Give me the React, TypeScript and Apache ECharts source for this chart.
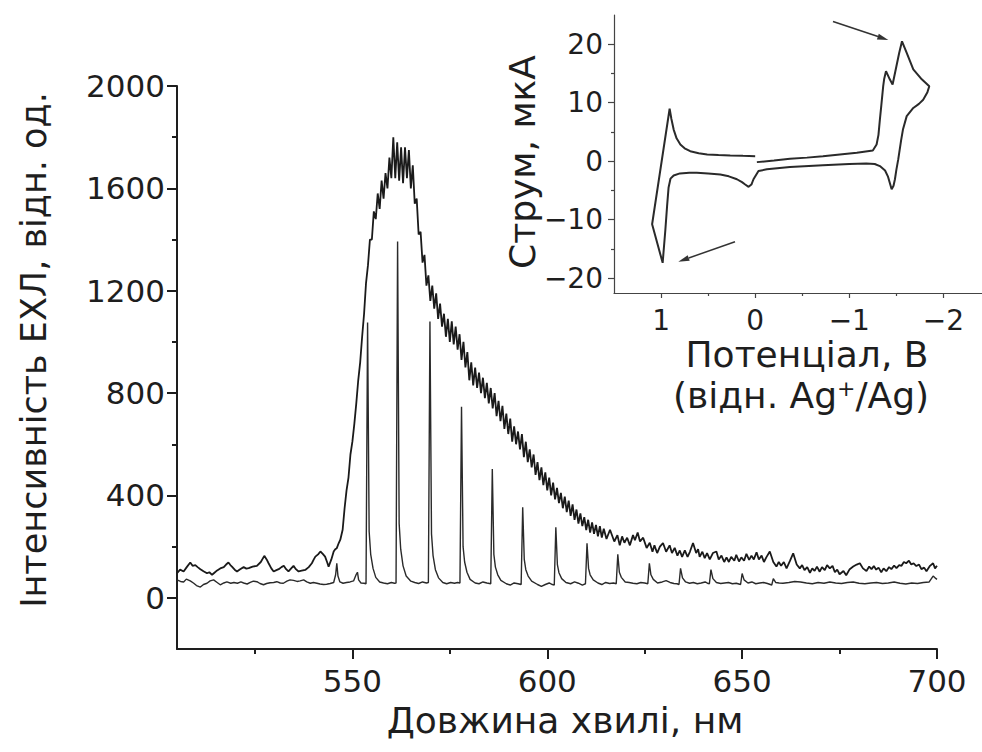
import React, { useEffect, useRef } from 'react';
import * as echarts from 'echarts';

const FONT = '"DejaVu Sans", "Liberation Sans", Arial, sans-serif';

// Main axis ticks
const wavelengthTicks = [550, 600, 650, 700];
const wavelengthMinorTicks = [525, 575, 625, 675];
const intensityTicks = [0, 400, 800, 1200, 1600, 2000];
const intensityMinorTicks = [200, 600, 1000, 1400, 1800];
// Inset axis ticks
const potentialTicks = [1, 0, -1, -2];
const potentialMinorTicks = [0.5, -0.5, -1.5];
const currentTicks = [-20, -10, 0, 10, 20];
const currentMinorTicks = [-15, -5, 5, 15];

const xTitle = 'Довжина хвилі, нм';
const yTitle = 'Інтенсивність ЕХЛ, відн. од.';
const insetYTitle = 'Струм, мкА';
const insetXTitle = 'Потенціал, В';

// Broad ECL spectrum (wavelength nm, intensity)
const elSpectrum: number[][] = [
  [505.0, 96], [505.8, 110], [506.7, 103], [507.5, 120], [508.4, 138], [509.0, 125], [509.7, 128], [510.3, 120],
  [511.0, 112], [511.8, 104], [512.7, 96], [513.3, 100], [514.0, 90], [514.6, 98], [515.3, 107], [516.1, 115],
  [517.0, 120], [517.6, 130], [518.2, 138], [518.7, 128], [519.1, 122], [519.8, 110], [520.4, 103], [521.2, 112],
  [522.1, 120], [522.8, 114], [523.4, 116], [524.4, 122], [525.5, 125], [526.5, 140], [527.4, 164], [528.0, 150],
  [528.5, 135], [529.2, 115], [529.8, 103], [530.5, 108], [531.1, 112], [531.8, 120], [532.4, 125], [533.0, 112],
  [533.6, 103], [534.3, 115], [534.9, 125], [535.5, 112], [536.2, 103], [537.0, 106], [537.9, 109], [538.8, 120],
  [539.6, 135], [540.1, 150], [540.5, 161], [541.2, 170], [541.8, 181], [542.4, 172], [543.0, 161], [543.5, 140],
  [543.9, 122], [544.6, 150], [545.2, 181], [545.6, 190], [546.0, 194], [546.5, 214], [546.9, 227], [547.5, 266],
  [548.0, 350], [548.5, 420], [549.0, 470], [549.5, 560], [550.0, 610], [550.5, 680], [551.0, 760], [551.5, 850],
  [552.0, 920], [552.5, 1020], [553.0, 1110], [553.5, 1230], [554.0, 1300], [554.5, 1400], [555.0, 1400], [555.5, 1510],
  [556.0, 1480], [556.5, 1580], [557.0, 1520], [557.5, 1630], [558.0, 1560], [558.5, 1660], [559.0, 1600], [559.5, 1720],
  [560.0, 1640], [560.5, 1800], [561.0, 1640], [561.5, 1780], [562.0, 1630], [562.5, 1760], [563.0, 1620], [563.5, 1760],
  [564.0, 1640], [564.5, 1750], [565.0, 1600], [565.5, 1690], [566.0, 1540], [566.5, 1560], [567.0, 1420], [567.5, 1430],
  [568.0, 1310], [568.5, 1340], [569.0, 1220], [569.5, 1260], [570.0, 1160], [570.5, 1220], [571.0, 1130], [571.5, 1190],
  [572.0, 1090], [572.5, 1150], [573.0, 1060], [573.5, 1110], [574.0, 1020], [574.5, 1090], [575.0, 1000], [575.5, 1080],
  [576.0, 990], [576.5, 1060], [577.0, 970], [577.5, 1030], [578.0, 930], [578.5, 1000], [579.0, 900], [579.5, 960],
  [580.0, 850], [580.5, 920], [581.0, 830], [581.5, 900], [582.0, 820], [582.5, 880], [583.0, 800], [583.5, 860],
  [584.0, 780], [584.5, 840], [585.0, 760], [585.5, 820], [586.0, 740], [586.5, 800], [587.0, 710], [587.5, 770],
  [588.0, 690], [588.5, 750], [589.0, 660], [589.5, 720], [590.0, 640], [590.5, 700], [591.0, 610], [591.5, 670],
  [592.0, 600], [592.5, 650], [593.0, 580], [593.5, 640], [594.0, 550], [594.5, 610], [595.0, 530], [595.5, 580],
  [596.0, 510], [596.5, 560], [597.0, 480], [597.5, 530], [598.0, 460], [598.5, 510], [599.0, 440], [599.5, 490],
  [600.0, 420], [600.5, 470], [601.0, 400], [601.5, 450], [602.0, 385], [602.5, 430], [603.0, 370], [603.5, 410],
  [604.0, 350], [604.5, 395], [605.0, 335], [605.5, 380], [606.0, 320], [606.5, 365], [607.0, 305], [607.5, 345],
  [608.0, 290], [608.5, 330], [609.0, 280], [609.5, 315], [610.0, 265], [610.5, 305], [611.0, 255], [611.5, 295],
  [612.0, 250], [612.5, 285], [613.0, 240], [613.5, 280], [614.0, 235], [614.5, 270], [615.2, 230], [616.1, 266],
  [617.2, 220], [618.0, 245], [618.6, 205], [619.2, 240], [619.8, 215], [620.5, 235], [621.2, 205], [622.0, 245],
  [622.5, 225], [623.2, 255], [623.8, 220], [624.6, 235], [625.5, 195], [626.3, 215], [627.0, 180], [627.5, 205],
  [628.2, 175], [628.9, 200], [629.7, 214], [630.5, 180], [631.4, 205], [632.0, 175], [632.7, 195], [633.4, 165],
  [634.0, 185], [634.6, 160], [635.3, 185], [636.0, 160], [636.6, 180], [637.4, 214], [638.2, 175], [638.7, 190],
  [639.1, 160], [639.8, 180], [640.4, 155], [641.0, 175], [641.7, 150], [642.5, 175], [643.4, 181], [644.0, 150],
  [644.7, 165], [645.4, 140], [646.0, 158], [646.6, 140], [647.2, 160], [648.0, 145], [648.5, 168], [649.2, 142],
  [649.8, 158], [650.5, 145], [651.1, 172], [651.8, 148], [652.4, 165], [653.0, 150], [653.7, 178], [654.3, 150],
  [655.0, 165], [655.6, 140], [656.2, 158], [657.1, 181], [658.0, 140], [658.8, 122], [659.4, 140], [660.0, 125],
  [660.7, 140], [661.4, 115], [662.3, 145], [663.1, 174], [664.0, 130], [664.8, 115], [665.4, 128], [666.0, 108],
  [666.7, 120], [667.4, 98], [668.0, 115], [668.6, 105], [669.2, 122], [669.9, 102], [670.5, 120], [671.2, 108],
  [671.8, 128], [672.5, 115], [673.2, 125], [673.8, 100], [674.4, 110], [675.0, 92], [676.0, 105], [676.7, 88],
  [677.6, 112], [678.5, 122], [679.4, 130], [680.2, 135], [681.0, 115], [681.9, 105], [682.6, 122], [683.2, 112],
  [683.8, 124], [684.4, 110], [685.0, 118], [685.7, 100], [686.3, 115], [687.0, 104], [687.7, 120], [688.3, 112],
  [689.0, 126], [689.6, 116], [690.3, 128], [690.9, 125], [691.5, 140], [692.1, 135], [692.8, 145], [693.4, 130],
  [694.0, 135], [694.7, 124], [695.4, 130], [696.0, 112], [696.7, 118], [697.3, 104], [698.2, 125], [699.0, 135],
  [699.5, 115], [700.0, 125],
];

// Line-like spectrum with sharp peaks (wavelength nm, intensity)
const peakSpectrum: number[][] = [
  [505.0, 70], [505.9, 64], [506.7, 62], [507.4, 73], [508.4, 66], [509.3, 57], [510.0, 48], [511.0, 42],
  [511.8, 52], [512.7, 57], [513.5, 66], [514.4, 70], [515.3, 60], [516.1, 51], [517.0, 58], [517.8, 62],
  [518.8, 57], [519.6, 60], [520.5, 57], [521.4, 62], [522.1, 58], [523.0, 54], [523.8, 60], [524.6, 65],
  [525.5, 63], [526.3, 56], [527.2, 51], [528.0, 56], [528.9, 59], [529.8, 60], [530.6, 63], [531.5, 58],
  [532.3, 57], [533.2, 65], [534.0, 70], [534.9, 68], [535.8, 64], [536.6, 66], [537.5, 70], [538.3, 62],
  [539.2, 57], [540.0, 60], [540.9, 57], [541.7, 54], [542.6, 52], [543.4, 53], [544.3, 56], [545.2, 60],
  [545.7, 90], [546.0, 135], [546.3, 85], [546.8, 62], [547.6, 57], [548.5, 60], [549.4, 62], [550.3, 66],
  [551.0, 92], [551.3, 100], [551.6, 70], [552.2, 58], [553.0, 57], [553.5, 55], [553.9, 1076], [554.3, 260],
  [554.7, 170], [555.3, 115], [556.0, 80], [557.0, 62], [558.0, 58], [559.0, 55], [560.0, 60], [560.8, 57],
  [561.2, 58], [561.6, 1392], [562.0, 290], [562.4, 190], [563.0, 125], [563.8, 85], [565.0, 65], [566.0, 60],
  [567.0, 56], [568.0, 62], [569.0, 58], [569.5, 60], [569.9, 1080], [570.3, 250], [570.7, 165], [571.3, 110],
  [572.1, 78], [573.2, 60], [574.2, 55], [575.2, 60], [576.2, 57], [577.0, 60], [577.6, 58], [578.0, 747],
  [578.4, 200], [578.8, 140], [579.4, 100], [580.2, 72], [581.5, 58], [582.5, 55], [583.5, 62], [584.5, 58],
  [585.5, 55], [585.9, 503], [586.3, 170], [586.7, 120], [587.3, 90], [588.1, 68], [589.5, 55], [590.5, 50],
  [591.5, 58], [592.5, 55], [593.3, 52], [593.7, 354], [594.1, 150], [594.5, 110], [595.1, 85], [596.0, 65],
  [597.5, 52], [598.5, 45], [599.5, 52], [600.5, 58], [601.3, 52], [601.8, 50], [602.2, 276], [602.6, 130],
  [603.0, 98], [603.7, 75], [604.8, 60], [606.0, 55], [607.0, 62], [608.0, 57], [609.0, 50], [609.8, 55],
  [610.2, 213], [610.6, 115], [611.0, 90], [611.8, 70], [613.0, 58], [614.0, 52], [615.0, 60], [616.0, 56],
  [617.0, 58], [617.7, 55], [618.1, 170], [618.5, 100], [619.0, 80], [620.0, 62], [621.0, 60], [622.0, 57],
  [623.0, 55], [624.0, 60], [625.0, 58], [625.8, 55], [626.2, 135], [626.6, 90], [627.2, 72], [628.3, 58],
  [629.5, 62], [630.5, 67], [631.5, 60], [632.5, 56], [633.3, 55], [633.8, 52], [634.2, 115], [634.7, 78],
  [635.5, 62], [636.5, 57], [637.5, 60], [638.5, 55], [639.5, 58], [640.5, 62], [641.1, 57], [641.6, 55],
  [642.0, 110], [642.5, 75], [643.4, 60], [644.5, 56], [645.5, 58], [646.5, 60], [647.5, 55], [648.5, 57],
  [649.6, 52], [650.0, 95], [650.5, 70], [651.5, 58], [652.5, 62], [653.5, 55], [654.5, 58], [655.5, 60],
  [656.5, 56], [657.6, 50], [658.0, 75], [658.6, 60], [659.5, 58], [660.5, 57], [662.0, 60], [663.5, 64],
  [665.0, 62], [666.5, 58], [668.0, 55], [669.5, 60], [671.0, 57], [672.5, 62], [674.0, 58], [675.5, 56],
  [677.0, 60], [678.5, 62], [680.0, 57], [681.5, 55], [683.0, 58], [684.5, 60], [686.0, 56], [687.5, 58],
  [689.0, 62], [690.5, 57], [692.0, 54], [693.5, 58], [695.0, 56], [696.5, 60], [698.0, 62], [699.0, 85],
  [699.5, 78], [700.0, 72],
];

// Cyclic voltammogram (inset): potential V vs Ag+/Ag, current μA
const cvPotential = [
  0.0, 0.13, 0.265, 0.39, 0.51, 0.6, 0.69, 0.75, 0.795, 0.835, 0.866, 0.89, 0.909, 1.095, 0.983, 0.954,
  0.936, 0.92, 0.9, 0.866, 0.8, 0.7, 0.62, 0.5, 0.37, 0.28, 0.194, 0.14, 0.106, 0.07, 0.04, 0.018,
  -0.035, -0.124, -0.37, -0.72, -1.0, -1.18, -1.27, -1.325, -1.38, -1.41, -1.45, -1.47, -1.485, -1.5,
  -1.52, -1.55, -1.57, -1.61, -1.68, -1.74, -1.785, -1.83, -1.85, -1.81, -1.77, -1.68, -1.61, -1.56,
  -1.53, -1.5, -1.46, -1.43, -1.39, -1.37, -1.36, -1.34, -1.325, -1.31, -1.29, -1.25, -1.08, -0.9,
  -0.72, -0.55, -0.37, -0.2, -0.018,
];
const cvCurrent = [
  0.85, 0.9, 0.97, 1.05, 1.15, 1.35, 1.7, 2.2, 2.85, 3.9, 5.4, 7.2, 8.96, -10.8, -17.4, -11.7,
  -7.7, -4.5, -3.0, -2.45, -2.1, -2.0, -2.0, -2.1, -2.3, -2.6, -3.1, -3.6, -4.0, -4.4, -4.0, -3.1,
  -1.7, -1.4, -1.0, -0.7, -0.5, -0.4, -0.5, -0.85, -1.6, -2.6, -4.8, -4.2, -3.1, -1.5,
  0.3, 3.5, 5.4, 7.7, 9.1, 9.8, 10.5, 11.8, 12.8, 13.4, 14.0, 15.7, 18.5, 20.5,
  18.5, 16.2, 13.1, 14.0, 15.4, 14.0, 12.8, 9.5, 7.1, 4.5, 2.85, 1.83, 1.43, 1.15,
  0.85, 0.6, 0.4, 0.1, -0.17,
];

const minusFmt = (v: number) => (v < 0 ? '\u2212' + Math.abs(v) : String(v));
const plainFmt = (v: number) => String(v);

export default function App() {
  const ref = useRef<HTMLDivElement>(null);

  useEffect(() => {
    if (!ref.current) return;
    const chart = echarts.init(ref.current, undefined, { renderer: 'svg' });

    const mainLine = { color: '#1e1e1e', width: 2 };
    const insetLine = { color: '#444', width: 1.2 };

    const cvData = cvPotential.map((v, i) => [v, cvCurrent[i]]);

    const txt = (extra: any) => ({
      fill: '#1e1e1e',
      fontFamily: FONT,
      fontSize: 36,
      align: 'center',
      verticalAlign: 'middle',
      textAlign: 'center',
      textVerticalAlign: 'middle',
      ...extra,
    });

    const option: any = {
      animation: false,
      backgroundColor: '#fff',
      grid: [
        { left: 177, top: 86, width: 760, height: 563 },
        { left: 614, top: 15, width: 368, height: 278 },
      ],
      xAxis: [
        {
          type: 'value', gridIndex: 0, position: 'bottom', min: 505, max: 700,
          axisLine: { show: true, onZero: false, lineStyle: mainLine },
          axisTick: { show: true, customValues: wavelengthTicks, length: 10, lineStyle: mainLine },
          axisLabel: { customValues: wavelengthTicks, formatter: plainFmt, margin: 16, fontSize: 31, color: '#1e1e1e', fontFamily: FONT },
          splitLine: { show: false },
        },
        {
          type: 'value', gridIndex: 0, position: 'bottom', min: 505, max: 700,
          axisLine: { show: false, onZero: false },
          axisTick: { show: true, customValues: wavelengthMinorTicks, length: 5, lineStyle: mainLine },
          axisLabel: { show: false },
          splitLine: { show: false },
        },
        {
          type: 'value', gridIndex: 1, position: 'bottom', inverse: true, min: -2.41, max: 1.5,
          axisLine: { show: true, onZero: false, lineStyle: insetLine },
          axisTick: { show: true, customValues: potentialTicks, length: 5, lineStyle: insetLine },
          axisLabel: { customValues: potentialTicks, formatter: minusFmt, margin: 13, fontSize: 28, color: '#1e1e1e', fontFamily: FONT },
          splitLine: { show: false },
        },
        {
          type: 'value', gridIndex: 1, position: 'bottom', inverse: true, min: -2.41, max: 1.5,
          axisLine: { show: false, onZero: false },
          axisTick: { show: true, customValues: potentialMinorTicks, length: 3, lineStyle: insetLine },
          axisLabel: { show: false },
          splitLine: { show: false },
        },
      ],
      yAxis: [
        {
          type: 'value', gridIndex: 0, position: 'left', min: -200, max: 2000,
          axisLine: { show: true, onZero: false, lineStyle: mainLine },
          axisTick: { show: true, customValues: intensityTicks, length: 10, lineStyle: mainLine },
          axisLabel: { customValues: intensityTicks, formatter: plainFmt, margin: 12, fontSize: 31, color: '#1e1e1e', fontFamily: FONT },
          splitLine: { show: false },
        },
        {
          type: 'value', gridIndex: 0, position: 'left', min: -200, max: 2000,
          axisLine: { show: false, onZero: false },
          axisTick: { show: true, customValues: intensityMinorTicks, length: 5, lineStyle: mainLine },
          axisLabel: { show: false },
          splitLine: { show: false },
        },
        {
          type: 'value', gridIndex: 1, position: 'left', min: -22.56, max: 25,
          axisLine: { show: true, onZero: false, lineStyle: insetLine },
          axisTick: { show: true, customValues: currentTicks, length: 6, lineStyle: insetLine },
          axisLabel: { customValues: currentTicks, formatter: minusFmt, margin: 11, fontSize: 28, color: '#1e1e1e', fontFamily: FONT },
          splitLine: { show: false },
        },
        {
          type: 'value', gridIndex: 1, position: 'left', min: -22.56, max: 25,
          axisLine: { show: false, onZero: false },
          axisTick: { show: true, customValues: currentMinorTicks, length: 3, lineStyle: insetLine },
          axisLabel: { show: false },
          splitLine: { show: false },
        },
      ],
      series: [
        {
          type: 'line', xAxisIndex: 0, yAxisIndex: 0, data: peakSpectrum,
          showSymbol: false, symbol: 'none', lineStyle: { color: '#2a2a2a', width: 1.4 }, z: 2,
        },
        {
          type: 'line', xAxisIndex: 0, yAxisIndex: 0, data: elSpectrum,
          showSymbol: false, symbol: 'none', lineStyle: { color: '#1a1a1a', width: 1.8 }, z: 3,
        },
        {
          type: 'line', xAxisIndex: 2, yAxisIndex: 2, data: cvData,
          showSymbol: false, symbol: 'none', lineStyle: { color: '#2a2a2a', width: 2 }, z: 3,
        },
      ],
      graphic: [
        { type: 'text', x: 565, y: 720, style: txt({ text: xTitle }) },
        { type: 'text', x: 34, y: 350, rotation: Math.PI / 2, style: txt({ text: yTitle, fontSize: 35 }) },
        { type: 'text', x: 522, y: 162, rotation: Math.PI / 2, style: txt({ text: insetYTitle }) },
        { type: 'text', x: 807, y: 354, style: txt({ text: insetXTitle }) },
        {
          type: 'text', x: 801, y: 395,
          style: txt({
            text: '{n|(відн. Ag}{s|+}{n|/Ag)}',
            rich: {
              n: { fontSize: 36, fontFamily: FONT, fill: '#1e1e1e', lineHeight: 36, verticalAlign: 'bottom' },
              s: { fontSize: 22, fontFamily: FONT, fill: '#1e1e1e', lineHeight: 20, verticalAlign: 'top' },
            },
          }),
        },
        // arrows
        { type: 'line', shape: { x1: 833, y1: 21.5, x2: 878, y2: 36.5 }, style: { stroke: '#333', lineWidth: 1.5 } },
        { type: 'polygon', shape: { points: [[888.3, 40], [876.9, 39.4], [878.8, 33.7]] }, style: { fill: '#333' } },
        { type: 'line', shape: { x1: 735, y1: 241.7, x2: 688.7, y2: 258 }, style: { stroke: '#333', lineWidth: 1.5 } },
        { type: 'polygon', shape: { points: [[678.3, 261.7], [687.7, 255.2], [689.7, 260.8]] }, style: { fill: '#333' } },
      ],
    };

    chart.setOption(option);
    return () => chart.dispose();
  }, []);

  return (
    <div
      ref={ref}
      style={{ position: 'fixed', left: 0, top: 0, width: 982, height: 752, background: '#fff' }}
    />
  );
}
